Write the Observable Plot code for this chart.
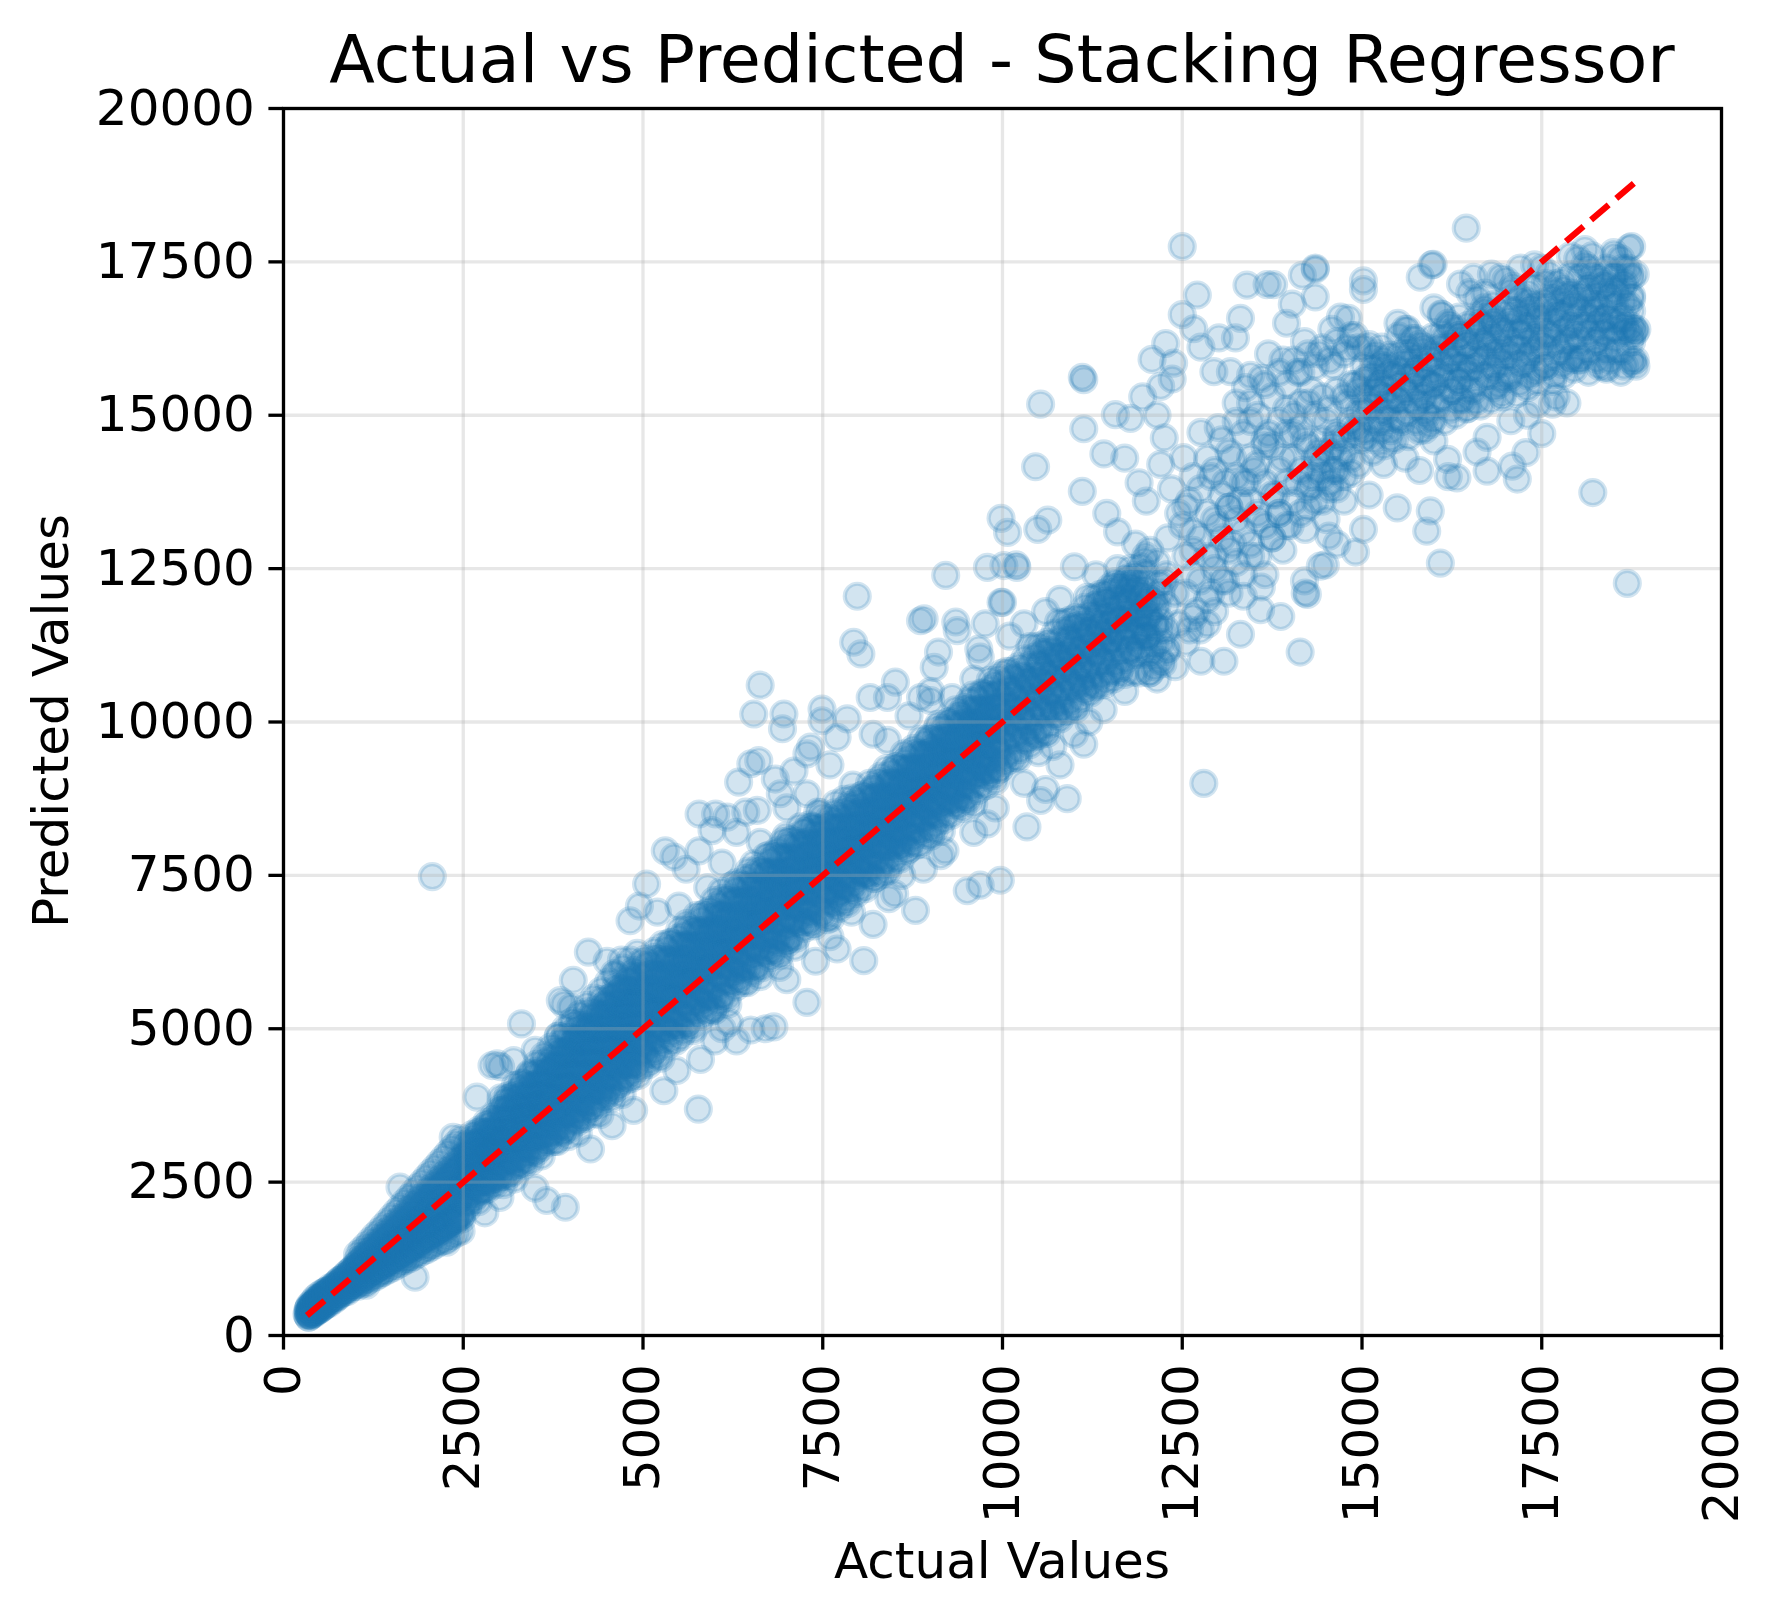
<!DOCTYPE html>
<html><head><meta charset="utf-8">
<script src="https://cdn.jsdelivr.net/npm/d3@7"></script>
<script src="https://cdn.jsdelivr.net/npm/@observablehq/plot@0.6"></script>
<style>html,body{margin:0;padding:0;background:#fff;}#chart{width:1774px;height:1618px;}</style>
</head><body><div id="chart"></div>
<script>
const titleText = "Actual vs Predicted - Stacking Regressor";
const xLabel = "Actual Values";
const yLabel = "Predicted Values";
const xTicks = [0,2500,5000,7500,10000,12500,15000,17500,20000];
const yTicks = [0,2500,5000,7500,10000,12500,15000,17500,20000];

// [actual, predicted] pairs
const lowBandA = [[326,350],[340,420],[350,300],[360,480],[370,390],[380,330],[390,520],[400,440],[410,360],[420,560],[430,470],[440,390],[450,610],[460,500],[470,420],[480,550],[490,650],[500,460],[510,580],[520,510],[540,690],[550,470],[560,620],[580,540],[590,720],[600,560],[620,660],[630,520],[650,780],[660,610],[680,700],[700,580],[710,820],[730,690],[750,760],[760,640],[780,900],[800,740],[820,830],[840,700],[860,960],[880,810],[900,890],[920,760],[940,1050],[960,880],[980,990],[1000,830],[1030,1150],[1050,960],[1080,1080],[1100,900],[1130,1230],[1150,1050],[1180,1160],[1200,980],[1230,1330],[1260,1120],[1290,1250],[1320,1060],[1350,1480],[1380,1250],[1410,1380],[1440,1150],[1470,1600],[1500,1360],[1530,1490],[1560,1240],[1590,1720],[1620,1450],[1650,1600],[1680,1330],[1710,1850],[1740,1560],[1770,1720],[1800,1420],[1830,1980],[1860,1650],[1890,1850],[1920,1500],[1950,2130],[1980,1760],[2010,1960],[2040,1580],[2070,2280],[2100,1880],[2130,2070],[2160,1690],[2190,2420],[2220,2000],[2250,2200],[2280,1780],[2310,2560],[2340,2120],[2370,2330],[2400,1880],[2430,2700],[2460,2230],[2490,2450]];
const lowBandB = [[335,330],[345,380],[355,450],[365,340],[375,460],[385,400],[395,350],[405,500],[415,420],[425,380],[435,530],[445,450],[455,400],[465,540],[475,470],[485,600],[495,420],[505,530],[515,620],[525,450],[535,560],[545,640],[555,520],[565,700],[575,600],[585,500],[595,650],[605,730],[615,580],[625,690],[640,600],[670,740],[690,660],[720,800],[740,620],[770,780],[790,860],[810,690],[830,920],[850,780],[870,870],[890,720],[910,980],[930,830],[950,940],[970,800],[990,1080],[1010,910],[1040,1000],[1070,1140],[1090,870],[1120,1110],[1160,1200],[1190,1040],[1220,1170],[1250,1280],[1280,1080],[1310,1380],[1340,1200],[1370,1320],[1400,1140],[1430,1460],[1460,1300],[1490,1420],[1520,1200],[1550,1550],[1580,1380],[1610,1530],[1640,1290],[1670,1780],[1700,1510],[1730,1640],[1760,1380],[1790,1880],[1820,1590],[1850,1760],[1880,1450],[1910,2020],[1940,1700],[1970,1880],[2000,1620],[2030,2180],[2060,1820],[2090,2000],[2120,1650],[2150,2340],[2180,1950],[2210,2150],[2240,1720],[2270,2480],[2300,2060],[2330,2280],[2360,1830],[2390,2620],[2420,2180],[2450,2400],[2480,1900]];
const lowSparse = [[1620,2420],[2360,3230],[1830,950],[2270,1520],[1350,1020],[1150,820],[1700,1250],[2000,1450],[2070,7480]];

// rows: [actual, predicted, predicted, ...] for the dense core
const lowRows = [[350,300,370,440],[390,330,410,480],[430,360,440,520],[470,400,480,560],[510,430,520,600],[550,470,560,640],[590,510,600,680],[630,540,640,730],[670,580,680,770],[710,620,720,810],[750,650,760,860],[790,690,800,900],[830,730,840,940],[870,760,880,990],[910,800,920,1030],[950,840,960,1070],[990,870,1000,1120],
[1025,900,990,1070,1160],[1075,930,1040,1120,1200],[1125,960,1080,1170,1270],[1175,1010,1120,1220,1310],[1225,1040,1170,1270,1370],[1275,1080,1210,1320,1420],[1325,1120,1250,1370,1480],[1375,1160,1300,1420,1530],[1425,1190,1340,1470,1590],[1475,1230,1390,1520,1640],[1525,1270,1430,1570,1700],[1575,1300,1480,1620,1760],[1625,1340,1520,1670,1820],[1675,1380,1570,1720,1870],[1725,1410,1610,1770,1930],[1775,1450,1650,1820,1990],[1825,1490,1700,1870,2050],[1875,1520,1740,1920,2100],[1925,1560,1780,1970,2160],[1975,1600,1830,2020,2220],[2025,1630,1870,2070,2280],[2075,1670,1910,2120,2340],[2125,1700,1950,2170,2390],[2175,1740,2000,2220,2450],[2225,1780,2040,2270,2510],[2275,1810,2080,2320,2570],[2325,1850,2120,2370,2620],[2375,1890,2170,2420,2680],[2425,1920,2210,2470,2740],[2475,1960,2250,2520,2790]];
const lowRowsWide = [[1030,800,880,1220,1320],[1090,840,930,1280,1390],[1150,880,970,1350,1460],[1210,920,1020,1420,1540],[1270,950,1060,1490,1620],[1330,990,1110,1560,1690],[1390,1030,1150,1630,1770],[1450,1070,1200,1700,1850],[1510,1100,1240,1770,1930],[1570,1140,1290,1840,2010],[1630,1180,1330,1910,2090],[1690,1220,1380,1980,2170],[1750,1250,1420,2050,2250],[1810,1290,1470,2120,2330],[1870,1330,1510,2190,2410],[1930,1370,1560,2260,2490],[1990,1400,1600,2330,2570],[2050,1440,1650,2400,2650],[2110,1480,1690,2470,2730],[2170,1520,1740,2540,2810],[2230,1550,1780,2610,2890],[2290,1590,1830,2680,2970],[2350,1630,1870,2750,3050],[2410,1670,1920,2820,3130],[2470,1700,1960,2890,3210]];

const midBand = [[2510,2630],[2510,2170],[2535,2945],[2535,2445],[2560,2820],[2560,2080],[2585,2615],[2585,2935],[2610,2410],[2610,2790],[2635,2215],[2635,3105],[2660,2630],[2660,2960],[2685,2425],[2685,2775],[2710,2180],[2710,2930],[2735,3165],[2735,2585],[2760,2770],[2760,2380],[2785,3105],[2785,2715],[2810,3310],[2810,2510],[2835,2985],[2835,2385],[2860,3100],[2860,2740],[2885,3005],[2885,2545],[2910,3320],[2910,2820],[2935,3195],[2935,2455],[2960,2990],[2960,3310],[2985,2785],[2985,3165],
[3010,3160],[3010,2585],[3035,3545],[3035,2925],[3060,3385],[3060,2460],[3085,3125],[3085,3525],[3110,2860],[3110,3335],[3135,2610],[3135,3725],[3160,3120],[3160,3535],[3185,2860],[3185,3295],[3210,2550],[3210,3485],[3235,3775],[3235,3045],[3260,3270],[3260,2785],[3285,3685],[3285,3195],[3310,3935],[3310,2935],[3335,3525],[3335,2775],[3360,3660],[3360,3210],[3385,3535],[3385,2960],[3410,3920],[3410,3300],[3435,3760],[3435,2835],[3460,3500],[3460,3900],[3485,3235],[3485,3710],[3510,2985],[3510,4100],[3535,3495],[3535,3910],[3560,3235],[3560,3670],[3585,2925],[3585,3860],[3610,4150],[3610,3420],[3635,3645],[3635,3160],[3660,4060],[3660,3570],[3685,4310],[3685,3310],[3710,3900],[3710,3150],[3735,4035],[3735,3585],
[3760,3985],[3760,3315],[3785,4430],[3785,3705],[3810,4235],[3810,3165],[3835,3930],[3835,4395],[3860,3620],[3860,4170],[3885,3325],[3885,4615],[3910,3915],[3910,4395],[3935,3610],[3935,4115],[3960,3240],[3960,4330],[3985,4660],[3985,3815],[4010,4075],[4010,3510],[4035,4550],[4035,3985],[4060,4835],[4060,3675],[4085,4355],[4085,3480],[4110,4510],[4110,3985],[4135,4360],[4135,3690],[4160,4805],[4160,4080],[4185,4610],[4185,3540],[4210,4305],[4210,4770],[4235,3995],[4235,4545],[4260,3700],[4260,4990],[4285,4290],[4285,4770],[4310,3985],[4310,4490],[4335,3615],[4335,4705],[4360,5035],[4360,4190],[4385,4450],[4385,3885],[4410,4925],[4410,4360],[4435,5210],[4435,4050],[4460,4730],[4460,3855],[4485,4885],[4485,4360],
[4510,4835],[4510,4050],[4535,5350],[4535,4500],[4560,5120],[4560,3865],[4585,4755],[4585,5300],[4610,4390],[4610,5035],[4635,4040],[4635,5555],[4660,4730],[4660,5290],[4685,4365],[4685,4960],[4710,3930],[4710,5205],[4735,5585],[4735,4600],[4760,4895],[4760,4235],[4785,5450],[4785,4785],[4810,5780],[4810,4420],[4835,5210],[4835,4190],[4860,5390],[4860,4775],[4885,5210],[4885,4425],[4910,5725],[4910,4875],[4935,5495],[4935,4240],[4960,5130],[4960,5675],[4985,4765],[4985,5410]];
const midBandUpper = [[2620,3180],[2670,3050],[2720,3350],[2770,3120],[2820,3420],[2870,3250],[2920,3560],[2970,3330],[3020,3700],[3070,3480],[3120,3810],[3170,3600],[3220,3950],[3270,3700],[3320,4120],[3370,3850],[3420,4250],[3470,3980],[3520,4420],[3570,4100],[3620,4560],[3670,4240],[3720,4700],[3770,4380],[3820,4880],[3870,4530],[3920,5000],[3970,4650],[4020,5120],[4070,4800],[4120,5230],[4170,4950],[4220,5380],[4270,5080],[4320,5500],[4370,5230],[4420,5620],[4470,5380],[4520,5760],[4570,5520],[4620,5880],[4670,5650],[4720,5990],[4770,5800],[4820,6120],[4870,5950],[4920,6230],[4970,6080]];
const midSparse = [[2690,3885],[2970,4430],[2900,4400],[3020,4380],[3310,5080],[3850,5460],[4030,5790],[4240,6250],[4820,6760],[4500,6100],[4700,6120],[3200,4480],[4000,5350],[3900,5400],[4950,7000],[5050,7360],[4600,5900],[3500,4650],[3010,2250],[3660,2200],[3920,2090],[4270,3040],[4570,3420],[4870,3670],[3500,2400],[2800,2000],[4100,3300],[4400,3600]];
const midRows = [[2525,2155,2325,2460,2570,2680,2815,2955,3120],[2575,2155,2315,2455,2593,2703,2840,2950,3115],[2625,2315,2450,2615,2725,2835,2975,3110,3275],[2675,2280,2445,2585,2748,2858,2995,3133,3243],[2725,2355,2525,2660,2770,2880,3015,3155,3320],[2775,2355,2515,2655,2793,2903,3040,3150,3315],[2825,2515,2650,2815,2925,3035,3175,3310,3475],[2875,2480,2645,2785,2948,3058,3195,3333,3443],[2925,2555,2725,2860,2970,3080,3215,3355,3520],[2975,2555,2715,2855,2993,3103,3240,3350,3515],
[3025,2650,2825,3035,3175,3315,3490,3665,3875],[3075,2595,2805,2980,3190,3330,3505,3680,3820],[3125,2680,2890,3065,3205,3345,3520,3695,3905],[3175,2660,2870,3045,3220,3360,3535,3675,3885],[3225,2850,3025,3235,3375,3515,3690,3865,4075],[3275,2795,3005,3180,3390,3530,3705,3880,4020],[3325,2880,3090,3265,3405,3545,3720,3895,4105],[3375,2860,3070,3245,3420,3560,3735,3875,4085],[3425,3050,3225,3435,3575,3715,3890,4065,4275],[3475,2995,3205,3380,3590,3730,3905,4080,4220],[3525,3080,3290,3465,3605,3745,3920,4095,4305],[3575,3060,3270,3445,3620,3760,3935,4075,4285],[3625,3250,3425,3635,3775,3915,4090,4265,4475],[3675,3195,3405,3580,3790,3930,4105,4280,4420],[3725,3280,3490,3665,3805,3945,4120,4295,4505],
[3775,3165,3425,3635,3845,4015,4230,4400,4655],[3825,3385,3600,3855,4025,4195,4405,4620,4875],[3875,3310,3565,3775,4035,4205,4415,4625,4795],[3925,3405,3655,3870,4040,4210,4425,4635,4890],[3975,3365,3625,3835,4045,4215,4430,4600,4855],[4025,3585,3800,4055,4225,4395,4605,4820,5075],[4075,3510,3765,3975,4235,4405,4615,4825,4995],[4125,3605,3855,4070,4240,4410,4625,4835,5090],[4175,3565,3825,4035,4245,4415,4630,4800,5055],[4225,3785,4000,4255,4425,4595,4805,5020,5275],[4275,3710,3965,4175,4435,4605,4815,5025,5195],[4325,3805,4055,4270,4440,4610,4825,5035,5290],[4375,3765,4025,4235,4445,4615,4830,5000,5255],[4425,3985,4200,4455,4625,4795,5005,5220,5475],[4475,3910,4165,4375,4635,4805,5015,5225,5395],[4525,4005,4255,4470,4640,4810,5025,5235,5490],[4575,3965,4225,4435,4645,4815,5030,5200,5455],[4625,4185,4400,4655,4825,4995,5205,5420,5675],[4675,4110,4365,4575,4835,5005,5215,5425,5595],[4725,4205,4455,4670,4840,5010,5225,5435,5690],[4775,4165,4425,4635,4845,5015,5230,5400,5655],[4825,4385,4600,4855,5025,5195,5405,5620,5875],[4875,4310,4565,4775,5035,5205,5415,5625,5795],[4925,4405,4655,4870,5040,5210,5425,5635,5890],[4975,4365,4625,4835,5045,5215,5430,5600,5855]];

const upperBand = [[5010,5353],[5010,4621],[5040,6029],[5040,5050],[5070,5717],[5070,4415],[5100,5348],[5100,5927],[5130,4978],[5130,5606],[5160,4647],[5160,6263],[5190,5314],[5190,5913],[5220,4964],[5220,5610],[5250,4519],[5250,5811],[5280,6164],[5280,5223],[5310,5529],[5310,4987],[5340,6110],[5340,5426],[5370,6406],[5370,5171],[5400,5838],[5400,4935],[5430,6020],[5430,5487],[5460,5803],[5460,5071],[5490,6479],[5490,5500],[5520,6167],[5520,4865],[5550,5798],[5550,6377],[5580,5428],[5580,6056],[5610,5097],[5610,6713],[5640,5764],[5640,6363],[5670,5414],[5670,6060],[5700,4969],[5700,6261],[5730,6614],[5730,5673],[5760,5979],[5760,5437],[5790,6560],[5790,5876],[5820,6856],[5820,5621],[5850,6288],[5850,5385],[5880,6470],[5880,5937],[5910,6253],[5910,5521],[5940,6929],[5940,5950],[5970,6617],[5970,5315],
[6000,6670],[6000,5300],[6030,6280],[6030,6890],[6060,5890],[6060,6550],[6090,5540],[6090,7240],[6120,6240],[6120,6870],[6150,5870],[6150,6550],[6180,5400],[6180,6760],[6210,7130],[6210,6140],[6240,6460],[6240,5890],[6270,7070],[6270,6350],[6300,7380],[6300,6080],[6330,6780],[6330,5830],[6360,6970],[6360,6410],[6390,6740],[6390,5970],[6420,7450],[6420,6420],[6450,7120],[6450,5750],[6480,6730],[6480,7340],[6510,6340],[6510,7000],[6540,5990],[6540,7690],[6570,6690],[6570,7320],[6600,6320],[6600,7000],[6630,5850],[6630,7210],[6660,7580],[6660,6590],[6690,6910],[6690,6340],[6720,7520],[6720,6800],[6750,7830],[6750,6530],[6780,7230],[6780,6280],[6810,7420],[6810,6860],[6840,7190],[6840,6420],[6870,7900],[6870,6870],[6900,7570],[6900,6200],[6930,7180],[6930,7790],[6960,6790],[6960,7450],[6990,6440],[6990,8140],
[7020,6457],[7020,8073],[7050,7124],[7050,7723],[7080,6774],[7080,7420],[7110,6329],[7110,7621],[7140,7974],[7140,7033],[7170,7339],[7170,6797],[7200,7920],[7200,7236],[7230,8216],[7230,6981],[7260,7648],[7260,6745],[7290,7830],[7290,7297],[7320,7613],[7320,6881],[7350,8289],[7350,7310],[7380,7977],[7380,6675],[7410,7608],[7410,8187],[7440,7238],[7440,7866],[7470,6907],[7470,8523],[7500,7574],[7500,8173],[7530,7224],[7530,7870],[7560,6779],[7560,8071],[7590,8424],[7590,7483],[7620,7789],[7620,7247],[7650,8370],[7650,7686],[7680,8666],[7680,7431],[7710,8098],[7710,7195],[7740,8280],[7740,7747],[7770,8063],[7770,7331],[7800,8739],[7800,7760],[7830,8427],[7830,7125],[7860,8058],[7860,8637],[7890,7688],[7890,8316],[7920,7357],[7920,8973],[7950,8024],[7950,8623],[7980,7674],[7980,8320],
[8010,8027],[8010,7542],[8040,8550],[8040,7938],[8070,8818],[8070,7713],[8100,8313],[8100,7505],[8130,8479],[8130,8002],[8160,8288],[8160,7633],[8190,8896],[8190,8020],[8220,8620],[8220,7455],[8250,8293],[8250,8811],[8280,7965],[8280,8527],[8310,7672],[8310,9118],[8340,8272],[8340,8808],[8370,7962],[8370,8540],[8400,7567],[8400,8723],[8430,9042],[8430,8200],[8460,8477],[8460,7992],[8490,9000],[8490,8388],[8520,9268],[8520,8163],[8550,8763],[8550,7955],[8580,8929],[8580,8452],[8610,8738],[8610,8083],[8640,9346],[8640,8470],[8670,9070],[8670,7905],[8700,8743],[8700,9261],[8730,8415],[8730,8977],[8760,8122],[8760,9568],[8790,8722],[8790,9258],[8820,8412],[8820,8990],[8850,8017],[8850,9173],[8880,9492],[8880,8650],[8910,8927],[8910,8442],[8940,9450],[8940,8838],[8970,9718],[8970,8613],
[9000,8140],[9000,8995],[9030,9574],[9030,8647],[9060,9271],[9060,8335],[9090,9895],[9090,8968],[9120,9565],[9120,8638],[9150,9280],[9150,8218],[9180,9472],[9180,9778],[9210,8917],[9210,9178],[9240,8695],[9240,9730],[9270,9112],[9270,10012],[9300,8872],[9300,9475],[9330,8650],[9330,9649],[9360,9175],[9360,9445],[9390,8782],[9390,10087],[9420,9190],[9420,9793],[9450,8590],[9450,9445],[9480,10024],[9480,9097],[9510,9721],[9510,8785],[9540,10345],[9540,9418],[9570,10015],[9570,9088],[9600,9730],[9600,8668],[9630,9922],[9630,10228],[9660,9367],[9660,9628],[9690,9145],[9690,10180],[9720,9562],[9720,10462],[9750,9322],[9750,9925],[9780,9100],[9780,10099],[9810,9625],[9810,9895],[9840,9232],[9840,10537],[9870,9640],[9870,10243],[9900,9040],[9900,9895],[9930,10474],[9930,9547],[9960,10171],[9960,9235],[9990,10795],[9990,9868]];
const upperSparse = [[7980,12050],[6630,10600],[6540,10130],[6960,10130],[6940,9890],[7490,10210],[7490,10020],[7840,10050],[7700,9750],[7930,11300],[8030,11110],[8160,10400],[8400,10400],[8510,10650],[8860,11650],[8910,11680],[9210,12390],[9350,11630],[9370,11490],[9760,11600],[10000,11950],[9790,12520],[10020,12550],[10200,12520],[9110,11140],[9050,10890],[9670,11190],[9690,11060],[9600,10700],[8860,10400],[9000,10350],[5780,8500],[6010,8500],[5960,8230],[6170,8450],[5310,7900],[5430,7800],[5780,7900],[6330,9020],[6500,9320],[6610,9370],[6840,9070],[6910,8830],[7280,8830],[7280,9480],[7330,9590],[6430,8530],[6590,8560],[6630,8040],[5600,7600],[5900,7300],[6100,7700],[5500,7000],[5200,6900],[6300,8200],[7000,8600],[7100,9200],[7600,9300],[8200,9800],[8400,9700],[8700,10100],[9000,10500],[9300,10400],
[8070,6110],[7280,5430],[6820,5030],[7700,6300],[8790,6930],[8420,7120],[9510,7250],[9690,7340],[9970,7420],[9140,7820],[10340,8290],[9790,8340],[10900,8750],[10530,8720],[11130,9640],[5290,3990],[5770,3690],[5470,4320],[6000,4800],[6300,4800],[6500,4980],[6700,5000],[6200,5100],[7000,5800],[7400,6100],[7600,6500],[8200,6700],[8500,7200],[8900,7600],[9200,7900],[9600,8200],[9900,8600],[7900,6900],[8600,7500],[6900,6000],[5800,4500],[6100,5000]];
const upperRows = [[5030,4555,4780,5050,5230,5410,5635,5860,6130],[5090,4480,4750,4975,5245,5425,5650,5875,6055],[5150,4585,4855,5080,5260,5440,5665,5890,6160],[5210,4555,4825,5050,5275,5455,5680,5860,6130],[5270,4795,5020,5290,5470,5650,5875,6100,6370],[5330,4720,4990,5215,5485,5665,5890,6115,6295],[5390,4825,5095,5320,5500,5680,5905,6130,6400],[5450,4795,5065,5290,5515,5695,5920,6100,6370],[5510,5035,5260,5530,5710,5890,6115,6340,6610],[5570,4960,5230,5455,5725,5905,6130,6355,6535],[5630,5065,5335,5560,5740,5920,6145,6370,6640],[5690,5035,5305,5530,5755,5935,6160,6340,6610],[5750,5275,5500,5770,5950,6130,6355,6580,6850],[5810,5200,5470,5695,5965,6145,6370,6595,6775],[5870,5305,5575,5800,5980,6160,6385,6610,6880],[5930,5275,5545,5770,5995,6175,6400,6580,6850],[5990,5515,5740,6010,6190,6370,6595,6820,7090],[6050,5440,5710,5935,6205,6385,6610,6835,7015],[6110,5545,5815,6040,6220,6400,6625,6850,7120],[6170,5515,5785,6010,6235,6415,6640,6820,7090],[6230,5755,5980,6250,6430,6610,6835,7060,7330],[6290,5680,5950,6175,6445,6625,6850,7075,7255],[6350,5785,6055,6280,6460,6640,6865,7090,7360],[6410,5755,6025,6250,6475,6655,6880,7060,7330],[6470,5995,6220,6490,6670,6850,7075,7300,7570],[6530,5920,6190,6415,6685,6865,7090,7315,7495],[6590,6025,6295,6520,6700,6880,7105,7330,7600],[6650,5995,6265,6490,6715,6895,7120,7300,7570],[6710,6235,6460,6730,6910,7090,7315,7540,7810],[6770,6160,6430,6655,6925,7105,7330,7555,7735],[6830,6265,6535,6760,6940,7120,7345,7570,7840],[6890,6235,6505,6730,6955,7135,7360,7540,7810],[6950,6475,6700,6970,7150,7330,7555,7780,8050],[7010,6400,6670,6895,7165,7345,7570,7795,7975],[7070,6505,6775,7000,7180,7360,7585,7810,8080],[7130,6475,6745,6970,7195,7375,7600,7780,8050],[7190,6715,6940,7210,7390,7570,7795,8020,8290],[7250,6640,6910,7135,7405,7585,7810,8035,8215],[7310,6745,7015,7240,7420,7600,7825,8050,8320],[7370,6715,6985,7210,7435,7615,7840,8020,8290],[7430,6955,7180,7450,7630,7810,8035,8260,8530],[7490,6880,7150,7375,7645,7825,8050,8275,8455]];
const upperRows2 = [[7550,6827,7082,7295,7465,7635,7848,8060,8315],[7610,6802,7057,7270,7482,7653,7865,8035,8290],[7670,7032,7245,7500,7670,7840,8053,8265,8520],[7730,6965,7220,7432,7687,7858,8070,8283,8453],[7790,7067,7322,7535,7705,7875,8088,8300,8555],[7850,7042,7297,7510,7722,7893,8105,8275,8530],[7910,7272,7485,7740,7910,8080,8293,8505,8760],[7970,7205,7460,7672,7927,8098,8310,8523,8693],[8030,7307,7562,7775,7945,8115,8328,8540,8795],[8090,7282,7537,7750,7962,8133,8345,8515,8770],[8150,7512,7725,7980,8150,8320,8533,8745,9000],[8210,7445,7700,7912,8167,8338,8550,8763,8933],[8270,7547,7802,8015,8185,8355,8568,8780,9035],[8330,7522,7777,7990,8202,8373,8585,8755,9010],[8390,7752,7965,8220,8390,8560,8773,8985,9240],[8450,7685,7940,8152,8407,8578,8790,9003,9173],[8510,7787,8042,8255,8425,8595,8808,9020,9275],[8570,7762,8017,8230,8442,8613,8825,8995,9250],[8630,7992,8205,8460,8630,8800,9013,9225,9480],[8690,7925,8180,8392,8647,8818,9030,9243,9413],[8750,8027,8282,8495,8665,8835,9048,9260,9515],[8810,8002,8257,8470,8682,8853,9065,9235,9490],[8870,8232,8445,8700,8870,9040,9253,9465,9720],[8930,8165,8420,8632,8887,9058,9270,9483,9653],[8990,8267,8522,8735,8905,9075,9288,9500,9755],[9050,8242,8497,8710,8922,9093,9305,9475,9730],[9110,8472,8685,8940,9110,9280,9493,9705,9960],[9170,8405,8660,8872,9127,9298,9510,9723,9893],[9230,8507,8762,8975,9145,9315,9528,9740,9995],[9290,8482,8737,8950,9162,9333,9545,9715,9970],[9350,8712,8925,9180,9350,9520,9733,9945,10200],[9410,8645,8900,9112,9367,9538,9750,9963,10133],[9470,8747,9002,9215,9385,9555,9768,9980,10235],[9530,8722,8977,9190,9402,9573,9785,9955,10210],[9590,8952,9165,9420,9590,9760,9973,10185,10440],[9650,8885,9140,9352,9607,9778,9990,10203,10373],[9710,8987,9242,9455,9625,9795,10008,10220,10475],[9770,8962,9217,9430,9642,9813,10025,10195,10450],[9830,9192,9405,9660,9830,10000,10213,10425,10680],[9890,9125,9380,9592,9847,10018,10230,10443,10613],[9950,9227,9482,9695,9865,10035,10248,10460,10715]];

const band10k = [[10020,10275],[10020,9425],[10060,10825],[10060,9975],[10100,10525],[10100,9377],[10140,10268],[10140,10735],[10180,9797],[10180,10393],[10220,9412],[10220,10900],[10260,10090],[10260,10770],[10300,9832],[10300,10343],[10340,9702],[10340,10680],[10380,11230],[10380,10125],[10420,10675],[10420,9825],[10460,11225],[10460,10375],[10500,10925],[10500,9777],[10540,10668],[10540,11135],[10580,10197],[10580,10793],[10620,9812],[10620,11300],[10660,10490],[10660,11170],[10700,10232],[10700,10743],[10740,10102],[10740,11080],[10780,11630],[10780,10525],[10820,11075],[10820,10225],[10860,11625],[10860,10775],[10900,11325],[10900,10177],[10940,11068],[10940,11535],[10980,10597],[10980,11193],[11020,10212],[11020,11700],[11060,10890],[11060,11570],[11100,10632],[11100,11143],[11140,10502],[11140,11480],[11180,12030],[11180,10925],[11220,11475],[11220,10625],[11260,12025],[11260,11175],[11300,11725],[11300,10577],[11340,11468],[11340,11935],[11380,10997],[11380,11593],[11420,10612],[11420,12100],[11460,11290],[11460,11970],[11500,10832],[11500,11343],[11540,10702],[11540,11680],[11580,12230],[11580,11125],[11620,11675],[11620,10825],[11660,12225],[11660,11375],[11700,11925],[11700,10777],[11740,11668],[11740,12135],[11780,11197],[11780,11793],[11820,10812],[11820,12300],[11860,11490],[11860,12170],[11900,11232],[11900,11743],[11940,11102],[11940,12080],[11980,12630],[11980,11525]];
const rows10k = [[10030,9340,9640,9880,10100,10360,10640],[10100,9500,9800,10040,10270,10530,10820],[10170,9420,9710,9970,10190,10430,10710],[10240,9550,9850,10090,10310,10570,10850],[10310,9710,10010,10250,10480,10740,11030],[10380,9630,9920,10180,10400,10640,10920],[10450,9760,10060,10300,10520,10780,11060],[10520,9920,10220,10460,10690,10950,11240],[10590,9840,10130,10390,10610,10850,11130],[10660,9970,10270,10510,10730,10990,11270],[10730,10130,10430,10670,10900,11160,11450],[10800,10050,10340,10600,10820,11060,11340],[10870,10180,10480,10720,10940,11200,11480],[10940,10340,10640,10880,11110,11370,11660],[11010,10260,10550,10810,11030,11270,11550],[11080,10390,10690,10930,11150,11410,11690],[11150,10550,10850,11090,11320,11580,11870],[11220,10470,10760,11020,11240,11480,11760],[11290,10600,10900,11140,11360,11620,11900],[11360,10760,11060,11300,11530,11790,12080],[11430,10680,10970,11230,11450,11690,11970],[11500,10810,11110,11350,11570,11830,12110],[11570,10970,11270,11510,11740,12000,12290],[11640,10890,11180,11440,11660,11900,12180],[11710,11020,11320,11560,11780,12040,12320],[11780,11180,11480,11720,11950,12210,12500],[11850,11100,11390,11650,11870,12110,12390],[11920,11230,11530,11770,11990,12250,12530],[11990,11390,11690,11930,12160,12420,12710],
[12040,10800,11100,11400,11700,12000],[12120,10900,11250,11550,11850],[12200,11000,11300,11650,12100],[12280,11150,11500,11900,12400]];
const sparse10k = [[11110,15620],[11130,15580],[10530,15180],[10460,14160],[11110,13760],[11130,14780],[11570,15010],[11780,14950],[11410,14370],[9980,13320],[10070,13090],[10490,13140],[10630,13290],[10190,12560],[11000,12530],[9980,11950],[12270,16170],[12080,15910],[12380,15850],[12200,15470],[12360,15590],[12250,14630],[12520,14310],[12760,14720],[12940,15710],[13170,15710],[13380,15450],[12500,17750],[12710,16960],[12500,16640],[12660,16410],[12760,16110],[13310,16580],[13240,16260],[13010,16260],[12760,10990],[13080,10990],[12800,9000],[11600,12500],[11750,12350],[12150,12600],[12300,13000],[12450,13400],[12100,12000],[12200,11500],[12050,10800],[12150,10700],[12300,11200],[12400,10900],[12450,11600],[11900,10800],[11700,10500],[11400,10200],[11200,10000],[11000,9800],[10700,9600],[10500,9500],[10600,8900],[10300,9000],[10800,9300],[11300,12400],[11500,12200],[10800,12000],[10600,11800],[10300,11600],[10100,11400],[12000,11400],[12150,11900],[12250,12300],[12400,12100],[12050,12800],[12350,13800],[12500,13200],[12650,12800],[12700,11800],[12600,11500],[12900,12100],[12850,11600],[12950,12700],[12600,13600],[12200,14200],[12000,13600],[11900,13900],[11700,14300],[11950,15300],[12150,15000],[11450,13400],[11600,13100],[11850,12900],[12080,11150],[12120,11600],[12180,12250],[12230,10950],[12020,11750]];

const band13k = [[13400,17120],[13680,17130],[13770,17130],[14170,17280],[14350,17400],[14030,16810],[14350,16930],[14580,16400],[14810,16580],[15020,17050],[13600,15600],[13900,15900],[14100,15700],[14300,15400],[14600,15800],[14800,16100],[14900,15500],[13450,14900],[13700,14700],[13900,14300],[14200,14600],[14500,14900],[14700,14300],[14900,14700],[13200,14300],[13500,14100],[13800,13700],[14100,13900],[14400,14100],[14650,13800],[14850,14050],[13100,13900],[13300,13600],[13550,13300],[13750,13000],[14000,13200],[14250,13500],[14500,13300],[14750,13600],[13000,13200],[13200,12900],[13450,12700],[13650,12400],[13900,12800],[14200,12300],[14490,12560],[14910,12770],[15020,13140],[15490,13490],[15950,13440],[15900,13110],[16090,12590],[14140,11140],[13870,11720],[14210,12100],[13590,11830],[13310,11430],[13100,12300],[13350,12050],[13600,12200],[13850,13400],[14050,14700],[14300,13850],[14600,14500],[14800,15200],[13250,15200],[13000,14800],[12900,14000],[13150,13500],[13400,13900],[13650,14500],[13950,15100],[14150,15200],[14400,16000],[14700,16600],[14900,16300],[14200,16200],[13950,16500],[13700,16000],[13450,15650],[14240,12080],[14420,12540],[14210,13140],[14540,13030],[14450,13600],[14650,12900],[14300,14000],[14450,14250],[14600,14100],[14750,14400],[14550,13900],[14400,14400],[14650,14650],[14850,14800],[14950,15050],[15000,14600]];
const rows13k = [[12550,11300,12100,12700,13500],[12650,11700,12400,13100,14000],[12750,11500,12300,13000,13800],[12850,12000,12700,13400,14300],[12950,11800,12500,13300,14100],[13050,12300,13000,13700,14600],[13150,12100,12800,13500,14400],[13250,12600,13300,14000,14900],[13350,12400,13100,13900,14700],[13450,12900,13600,14300,15200],[13550,12700,13400,14200,15000],[13650,13200,13900,14600,15500],[13750,13000,13700,14500,15300],[13850,13400,14100,14900,15700],[13950,13200,13900,14700,15500],[14050,13600,14300,15000,15900],[14150,13400,14100,14800,15700],[14250,13800,14500,15200,16000],[14350,13600,14300,15000,15800],[14450,14000,14600,15300,16100],[14550,13800,14400,15100,15900],[14650,14100,14700,15400,16200],[14750,14000,14600,15300,16000],[14850,14300,14900,15500,16300],[14950,14200,14800,15400,16100]];

const cloudHigh = [[15050,15600],[15050,14650],[15100,16150],[15100,15150],[15150,15750],[15150,14400],[15200,15400],[15200,16000],[15250,14900],[15250,15500],[15300,14500],[15300,15900],[15350,15050],[15350,15800],[15400,14750],[15400,15300],[15450,14600],[15450,15650],[15500,16500],[15500,15250],[15550,15850],[15550,14900],[15600,16400],[15600,15400],[15650,16000],[15650,14650],[15700,15650],[15700,16250],[15750,15150],[15750,15750],[15800,14750],[15800,16150],[15850,15300],[15850,16050],[15900,15000],[15900,15550],[15950,14850],[15950,15900],[16000,16750],[16000,15500],[16050,16100],[16050,15150],[16100,16650],[16100,15650],[16150,16250],[16150,14900],[16200,15900],[16200,16500],[16250,15400],[16250,16000],[16300,15000],[16300,16400],[16350,15550],[16350,16300],[16400,15250],[16400,15800],[16450,15100],[16450,16150],[16500,17000],[16500,15750],[16550,16350],[16550,15400],[16600,16900],[16600,15900],[16650,16500],[16650,15150],[16700,16150],[16700,16750],[16750,15650],[16750,16250],[16800,15250],[16800,16650],[16850,15800],[16850,16550],[16900,15500],[16900,16050],[16950,15350],[16950,16400],[17000,17200],[17000,15950],[17050,16550],[17050,15600],[17100,17100],[17100,16100],[17150,16700],[17150,15350],[17200,16350],[17200,16950],[17250,15850],[17250,16450],[17300,15450],[17300,16850],[17350,16000],[17350,16750],[17400,15700],[17400,16250],[17450,15550],[17450,16600],[17500,17400],[17500,16150],[17550,16750],[17550,15800],[17600,17300],[17600,16300],[17650,16900],[17650,15550],[17700,16550],[17700,17150],[17750,16050],[17750,16650],[17800,15650],[17800,17050],[17850,16200],[17850,16950],[17900,15900],[17900,16450],[17950,15750],[17950,16800],[18000,17550],[18000,16300],[18050,16900],[18050,15950],[18100,17450],[18100,16450],[18150,17050],[18150,15700],[18200,16700],[18200,17300],[18250,16200],[18250,16800],[18300,15800],[18300,17200],[18350,16350],[18350,17100],[18400,16050],[18400,16600],[18450,15900],[18450,16950],[18500,17650],[18500,16400],[18550,17000],[18550,16050],[18600,17550],[18600,16550],[18650,17150],[18650,15800],[18700,16800],[18700,17400],[18750,16300],[18750,16900],[18800,15900],[18800,17300],[18823,16400],[18800,16350],[18780,16400],[18700,16380],[18650,16450],[18760,15850],[18810,15800],[18600,15700],[18400,15750],[18300,16550],[18200,17600],[18100,17700],[17900,17600],[18750,17750],[18720,17300],[18500,17250],[18400,17400]];
const cloudRows = [[15030,14750,15050,15300,15550,15800,16100],[15150,14600,14900,15150,15400,15650,15950],[15270,14760,15060,15310,15560,15810,16110],[15390,14630,14930,15180,15430,15680,15980],[15510,14940,15240,15490,15740,15990,16290],[15630,15050,15350,15600,15850,16100,16400],[15750,14900,15200,15450,15700,15950,16250],[15870,14760,15060,15310,15560,15810,16110],[15990,14930,15230,15480,15730,15980,16280],[16110,15290,15590,15840,16090,16340,16640],[16230,15100,15400,15650,15900,16150,16450],[16350,15250,15550,15800,16050,16300,16600],[16470,15110,15410,15660,15910,16160,16460],[16590,15230,15530,15780,16030,16280,16580],[16710,15640,15940,16190,16440,16690,16990],[16830,15450,15750,16000,16250,16500,16800],[16950,15300,15600,15850,16100,16350,16650],[17070,15660,15960,16210,16460,16710,17010],[17190,15530,15830,16080,16330,16580,16880],[17310,15640,15940,16190,16440,16690,16990],[17430,15750,16050,16300,16550,16800,17100],[17550,15800,16100,16350,16600,16850,17150],[17670,15660,15960,16210,16460,16710,17010],[17790,15830,16130,16380,16630,16880,17180],[17910,15940,16240,16490,16740,16990,17290],[18030,15900,16200,16450,16700,16950,17250],[18150,16050,16350,16600,16850,17100,17400],[18270,15910,16210,16460,16710,16960,17260],[18390,15780,16080,16330,16580,16830,17130],[18510,16240,16540,16790,17040,17290,17590],[18630,16050,16350,16600,16850,17100,17400],[18750,15900,16200,16450,16700,16950,17250]];
const cloudSparse = [[16450,18050],[18720,17730],[18210,13740],[18690,12260],[17160,13960],[16320,13980],[16740,14090],[17090,14170],[17280,14390],[16190,14280],[16740,14640],[16000,14580],[17650,15180],[17440,15180],[17070,14910],[15990,17460],[16370,17140],[16550,17250],[15810,17250],[15970,17450],[15020,17190],[14350,17380],[16930,17250],[17200,17400],[17400,17450],[16800,17300],[15600,14300],[15800,14100],[16200,14000],[15300,14200],[15100,13700],[16600,14400],[17300,15000],[17700,15300],[17850,15200],[18000,15900],[17500,14700]];

const pairGroups = [lowBandA, lowBandB, lowSparse, midBand, midBandUpper, midSparse, upperBand, upperSparse, band10k, sparse10k, band13k, cloudHigh, cloudSparse];
const rowGroups = [lowRows, lowRowsWide, midRows, upperRows, upperRows2, rows10k, rows13k, cloudRows];
const points = [
  ...pairGroups.flat().map(([actual, predicted]) => ({actual, predicted})),
  ...rowGroups.flat().flatMap(([actual, ...preds]) => preds.map(predicted => ({actual, predicted})))
];
const [minActual, maxActual] = d3.extent(points, d => d.actual);
const diagonal = [{v: minActual}, {v: maxActual}];

const W = 1774, H = 1618;
const mL = 283, mR = 53, mT = 108, mB = 283;
const font = "DejaVu Sans";
const blue = "#1f77b4";

const chart = Plot.plot({
  width: W, height: H,
  marginLeft: mL, marginRight: mR, marginTop: mT, marginBottom: mB,
  style: {fontFamily: font, fontSize: "50px", background: "white", color: "black", overflow: "visible"},
  x: {domain: [0, 20000]},
  y: {domain: [0, 20000]},
  marks: [
    Plot.dot(points, {x: "actual", y: "predicted", r: 12.5, fill: blue, fillOpacity: 0.2, stroke: blue, strokeOpacity: 0.2, strokeWidth: 4.17}),
    Plot.gridX(xTicks, {stroke: "#b0b0b0", strokeOpacity: 0.3, strokeWidth: 3.3}),
    Plot.gridY(yTicks, {stroke: "#b0b0b0", strokeOpacity: 0.3, strokeWidth: 3.3}),
    Plot.line(diagonal, {x: "v", y: "v", stroke: "#ff0000", strokeWidth: 6.25, strokeDasharray: "23.1,10", strokeLinecap: "butt"}),
    Plot.frame({stroke: "black", strokeWidth: 3.3}),
    Plot.axisX(xTicks, {anchor: "bottom", tickSize: 14.6, tickPadding: 14, tickRotate: -90, strokeWidth: 3.3, fontSize: 50, tickFormat: d => String(d), label: null}),
    Plot.axisY(yTicks, {anchor: "left", tickSize: 14.6, tickPadding: 14, strokeWidth: 3.3, fontSize: 50, tickFormat: d => String(d), label: null})
  ]
});

const svg = d3.select(chart);
svg.append("text").attr("x", 1002).attr("y", 82).attr("text-anchor", "middle")
  .style("font-size", "66.7px").style("font-family", font).attr("fill", "black").text(titleText);
svg.append("text").attr("x", 1002).attr("y", 1578).attr("text-anchor", "middle")
  .style("font-size", "50px").style("font-family", font).attr("fill", "black").text(xLabel);
svg.append("text").attr("transform", "translate(68,721) rotate(-90)").attr("text-anchor", "middle")
  .style("font-size", "50px").style("font-family", font).attr("fill", "black").text(yLabel);

document.getElementById("chart").appendChild(chart);
</script>
</body></html>
